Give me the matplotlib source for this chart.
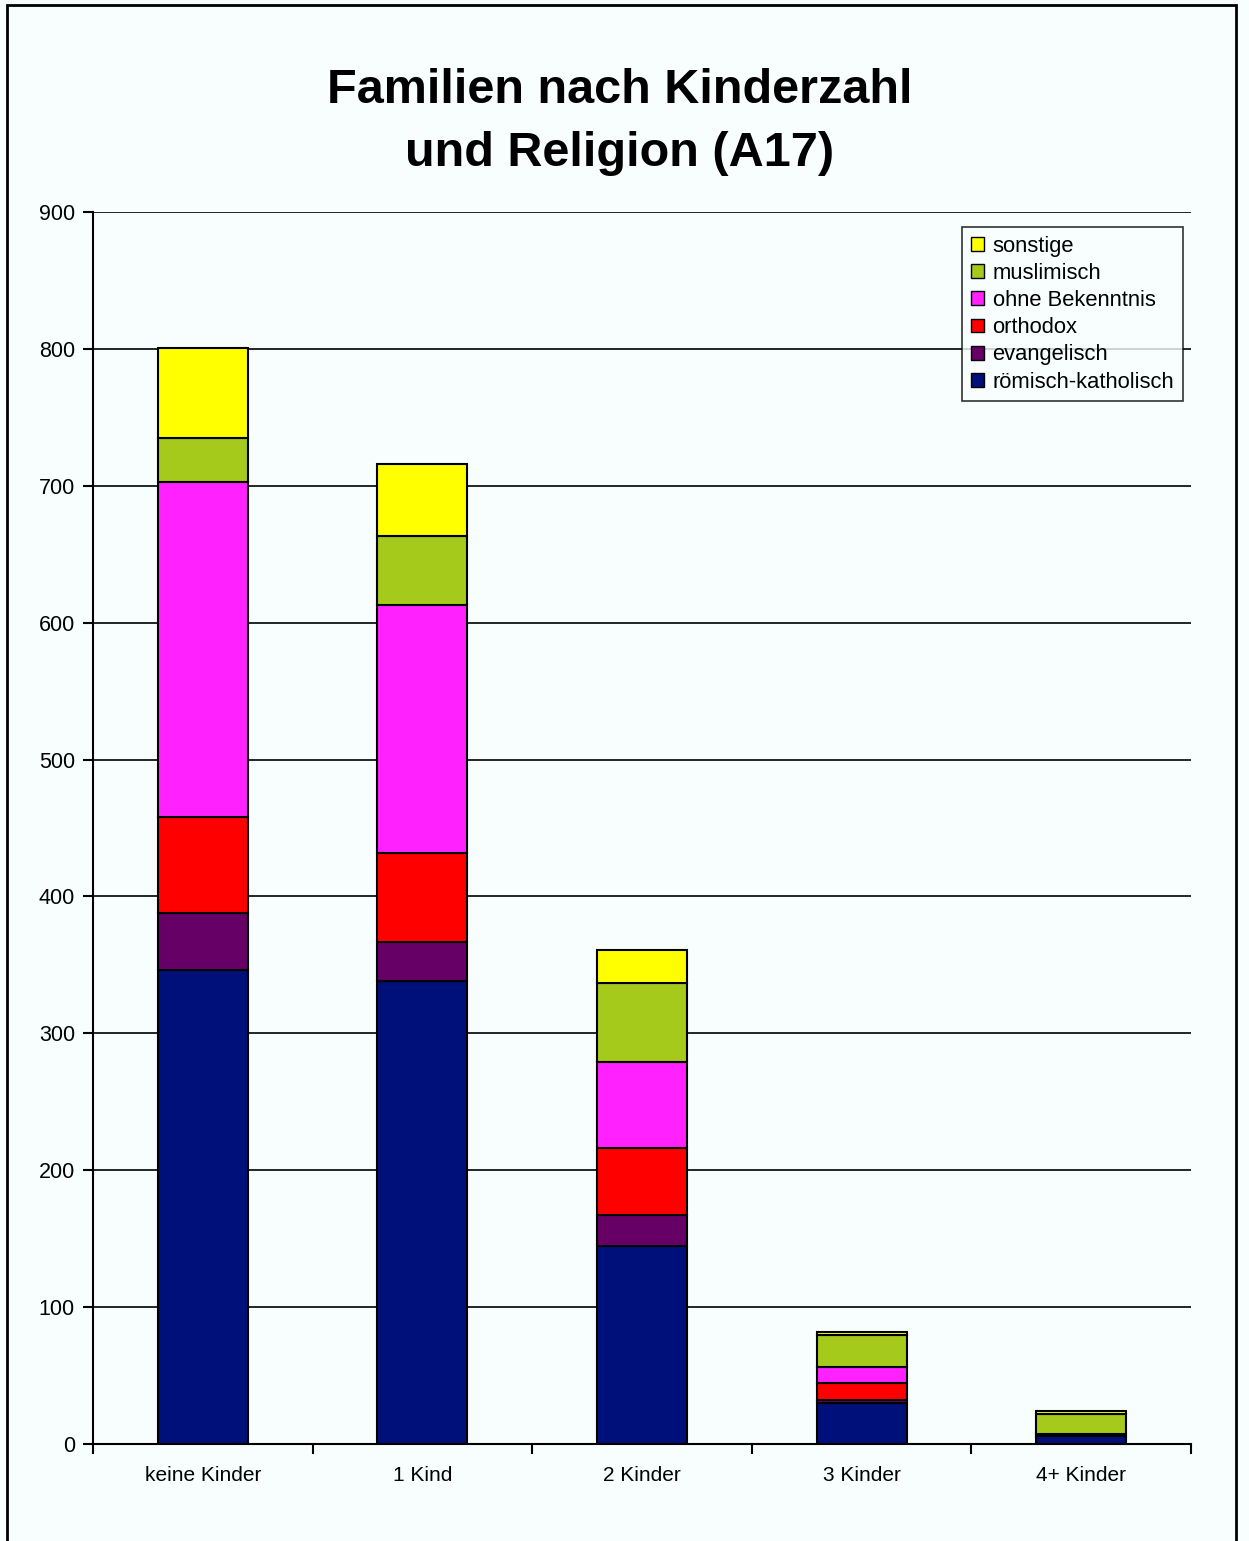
import matplotlib
matplotlib.use('Agg')
import matplotlib.pyplot as plt
from matplotlib.patches import Rectangle, Patch
import numpy as np

plt.rcParams['font.family'] = ['Liberation Sans', 'DejaVu Sans']

categories = ['keine Kinder', '1 Kind', '2 Kinder', '3 Kinder', '4+ Kinder']
series = ['römisch-katholisch', 'evangelisch', 'orthodox', 'ohne Bekenntnis', 'muslimisch', 'sonstige']
katholisch = [346, 338, 145, 30, 6]
evangelisch = [42, 29, 22, 2.5, 1]
orthodox = [70, 65, 49, 12, 0]
ohne = [245, 181, 63, 12, 0]
muslimisch = [32, 50, 58, 23, 15]
sonstige = [66, 53, 24, 2, 2]
values = [katholisch, evangelisch, orthodox, ohne, muslimisch, sonstige]
colors = ['#00107A', '#660066', '#FF0000', '#FF22FF', '#A6CA1C', '#FFFF00']

bg = '#F8FEFE'
fig = plt.figure(figsize=(12.49, 15.41), dpi=100, facecolor=bg)
ax = fig.add_axes([93 / 1249, 1 - 1444 / 1541, (1191 - 93) / 1249, (1444 - 212) / 1541])
ax.set_facecolor(bg)

x = np.arange(len(categories))
bottom = np.zeros(len(categories))
for name, vals, c in zip(series, values, colors):
    ax.bar(x, vals, bottom=bottom, width=0.41, color=c, edgecolor='black', linewidth=1.5,
           label=name, zorder=3)
    bottom += np.array(vals)

ax.set_ylim(0, 900)
ax.set_xlim(-0.5, len(categories) - 0.5)
ax.set_yticks(range(0, 901, 100))
ax.yaxis.grid(True, color='black', lw=1.2)
ax.set_axisbelow(True)
for s in ['top', 'right']:
    ax.spines[s].set_visible(False)
ax.spines['left'].set_linewidth(1.5)
ax.spines['bottom'].set_linewidth(1.5)
ax.set_xticks(x)
ax.set_xticklabels(categories, fontsize=15)
ax.tick_params(axis='x', length=0, pad=16)
ax.set_xticks(np.arange(-0.5, len(categories)), minor=True)
ax.tick_params(axis='x', which='minor', length=7, width=1.5, direction='out')
ax.tick_params(axis='y', labelsize=15.5, length=7, width=1.5, direction='out', pad=6)

handles = [Patch(facecolor=c, edgecolor='black', label=n) for n, c in zip(series, colors)]
leg = ax.legend(handles=handles[::-1], loc='upper right',
                fontsize=15.8, frameon=True, fancybox=False, edgecolor='black',
                handlelength=0.6, handleheight=0.6, handletextpad=0.4, labelspacing=0.28,
                borderpad=0.4, borderaxespad=0)
leg.set_bbox_to_anchor((1183 / 1249, 1 - 227 / 1541), transform=fig.transFigure)
leg.get_frame().set_facecolor(bg)
leg.get_frame().set_linewidth(1.2)

fig.text(620 / 1249, 1 - 122 / 1541, 'Familien nach Kinderzahl\nund Religion (A17)',
         ha='center', va='center', fontsize=35, fontweight='bold', linespacing=1.5)

fig.patches.append(Rectangle((7 / 1249, -0.01), (1236 - 7) / 1249, 1 - 5 / 1541 + 0.01,
                             transform=fig.transFigure, fill=False, edgecolor='black', lw=2))

fig.savefig('out.png', dpi=100, facecolor=bg)
